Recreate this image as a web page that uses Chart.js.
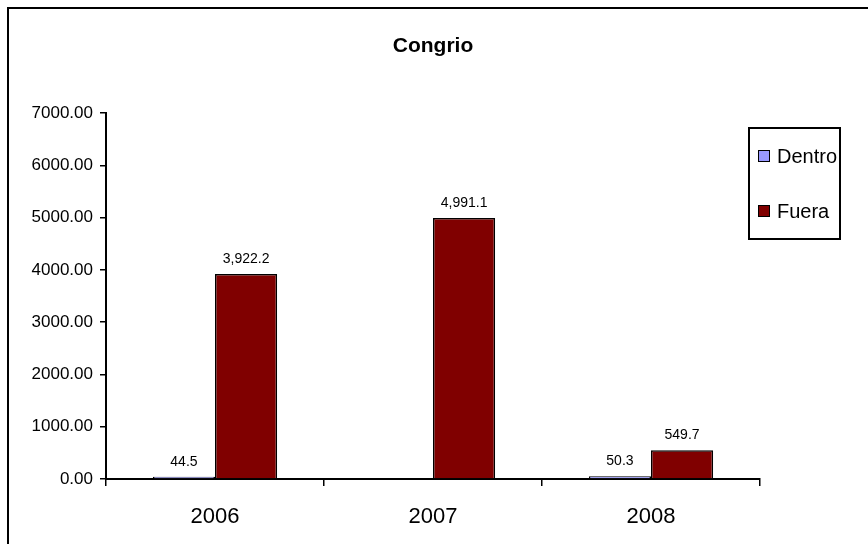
<!DOCTYPE html>
<html>
<head>
<meta charset="utf-8">
<script src="https://cdn.jsdelivr.net/npm/chart.js@4"></script>
<style>
  html, body { margin: 0; padding: 0; background: #fff; }
  #wrap { position: relative; width: 868px; height: 544px; }
</style>
</head>
<body>
<div id="wrap"><canvas id="chart" width="868" height="544"></canvas></div>
<script>
// ==================== DATA ====================
const years = ['2006', '2007', '2008'];
const dentro = [44.5, null, 50.3];
const fuera = [3922.2, 4991.1, 549.7];
const yTicks = [0, 1000, 2000, 3000, 4000, 5000, 6000, 7000];

const FONT = 'Arial, "Liberation Sans", sans-serif';

// outer frame (runs off the right/bottom edge) + title
const framePlugin = {
  id: 'frame',
  afterDraw(chart){
    const c = chart.ctx;
    c.save();
    c.strokeStyle = '#000';
    c.lineWidth = 2;
    c.strokeRect(8, 8, 900, 600);
    c.fillStyle = '#000';
    c.font = 'bold 21px ' + FONT;
    c.textAlign = 'center';
    c.textBaseline = 'middle';
    c.fillText('Congrio', 433, 46);
    c.restore();
  }
};

// value labels above bars
const labelPlugin = {
  id: 'valueLabels',
  afterDatasetsDraw(chart){
    const c = chart.ctx;
    c.save();
    c.font = '14px ' + FONT;
    c.fillStyle = '#000';
    c.textAlign = 'center';
    c.textBaseline = 'bottom';
    chart.data.datasets.forEach((ds, i) => {
      chart.getDatasetMeta(i).data.forEach((bar, j) => {
        const v = ds.data[j];
        if (v == null) return;
        const txt = v.toLocaleString('en-US', {minimumFractionDigits: 1, maximumFractionDigits: 1});
        c.fillText(txt, bar.x, bar.y - 8);
      });
    });
    c.restore();
  }
};

// boxed legend on the right
const legendPlugin = {
  id: 'boxLegend',
  afterDraw(chart){
    const c = chart.ctx;
    const x = 749, y = 128, w = 91, h = 111;
    c.save();
    c.fillStyle = '#fff';
    c.fillRect(x, y, w, h);
    c.beginPath();
    c.rect(x, y, w, h);
    c.clip();
    c.font = '20px ' + FONT;
    c.textBaseline = 'middle';
    c.textAlign = 'left';
    chart.data.datasets.forEach((ds, i) => {
      const cy = 156 + i * 55;
      c.fillStyle = ds.backgroundColor;
      c.fillRect(758, cy - 6, 12, 12);
      c.strokeStyle = '#000';
      c.lineWidth = 1;
      c.strokeRect(758.5, cy - 5.5, 11, 11);
      c.fillStyle = '#000';
      c.fillText(ds.label, 777, cy + 1);
    });
    c.restore();
    c.save();
    c.strokeStyle = '#000';
    c.lineWidth = 2;
    c.strokeRect(x, y, w, h);
    c.restore();
  }
};

new Chart(document.getElementById('chart'), {
  type: 'bar',
  data: {
    labels: years,
    datasets: [
      { label: 'Dentro', data: dentro, backgroundColor: '#9999ff', borderColor: '#000', borderWidth: 1.5,
        categoryPercentage: 0.57, barPercentage: 1.0 },
      { label: 'Fuera', data: fuera, backgroundColor: '#800000', borderColor: '#000', borderWidth: 1.5,
        categoryPercentage: 0.57, barPercentage: 1.0 }
    ]
  },
  options: {
    responsive: false,
    animation: false,
    layout: { padding: { left: 8, top: 113, right: 108, bottom: 10 } },
    plugins: {
      legend: { display: false },
      title: { display: false },
      tooltip: { enabled: false }
    },
    scales: {
      x: {
        grid: { offset: true, drawOnChartArea: false, drawTicks: true, tickLength: 7, color: '#000', lineWidth: 1.5 },
        border: { color: '#000', width: 2 },
        ticks: { color: '#000', font: { family: FONT, size: 22 }, padding: 18 },
        afterFit(s){ s.height = 544 - 10 - 479; }
      },
      y: {
        min: 0, max: 7000,
        grid: { drawOnChartArea: false, drawTicks: true, tickLength: 6, color: '#000', lineWidth: 1.5 },
        border: { color: '#000', width: 2 },
        afterBuildTicks(s){ s.ticks = yTicks.map(v => ({ value: v })); },
        ticks: { color: '#000', font: { family: FONT, size: 17 }, padding: 7,
                 callback: v => v.toFixed(2) },
        afterFit(s){ s.width = 106 - 8; }
      }
    }
  },
  plugins: [labelPlugin, legendPlugin, framePlugin]
});
</script>
</body>
</html>
